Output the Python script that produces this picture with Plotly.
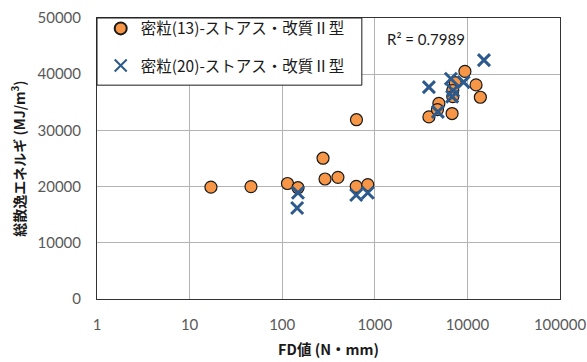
import plotly.graph_objects as go

# FD value (N·mm) and total dissipated energy (MJ/m³) per specimen
fd_13 = [17, 46, 114, 148, 276, 290, 400, 630, 634, 840,
         3840, 4920, 4750, 6830, 7400, 6950, 6950, 9400, 12400, 13800]
energy_13 = [19900, 20000, 20550, 19800, 25050, 21350, 21650, 20050, 31900, 20350,
             32400, 34800, 33700, 33000, 38500, 37100, 36000, 40500, 38100, 35900]

fd_20 = [148, 145, 630, 840, 3840, 4800, 6630, 7000, 6850, 9100, 15100]
energy_20 = [18900, 16200, 18500, 18900, 37700, 33300, 39200, 37100, 36000, 38600, 42500]

name_13 = "密粒(13)-ストアス・改質Ⅱ型"
name_20 = "密粒(20)-ストアス・改質Ⅱ型"
r2_text = "R² = 0.7989"

x_tickvals = [1, 10, 100, 1000, 10000, 100000]
x_ticktext = ["1", "10", "100", "1000", "10000", "100000"]
y_tickvals = [0, 10000, 20000, 30000, 40000, 50000]
y_ticktext = ["0", "10000", "20000", "30000", "40000", "50000"]

FONT = "Lato, Noto Sans CJK JP, sans-serif"
JP_FONT = "Noto Sans CJK JP, sans-serif"

fig = go.Figure()
fig.add_trace(go.Scatter(
    x=fd_13, y=energy_13, mode="markers", name=name_13,
    legendgroup="a",
    marker=dict(symbol="circle", size=12, color="#F79646",
                line=dict(color="#1a1a1a", width=1.2)),
))
fig.add_trace(go.Scatter(
    x=fd_20, y=energy_20, mode="markers", name=name_20,
    legendgroup="b",
    marker=dict(symbol="x-thin", size=12, color="#2C5A8C",
                line=dict(color="#2C5A8C", width=3)),
))

# white legend frame covering the gridlines
fig.add_shape(
    type="rect", xref="paper", yref="paper",
    x0=0, x1=0.572, y0=0.761, y1=1.0,
    fillcolor="white", line=dict(color="#1a1a1a", width=1), layer="above",
)

fig.add_annotation(
    x=0.621, y=0.925, xref="paper", yref="paper", xanchor="left", yanchor="middle",
    text=r2_text, showarrow=False,
    font=dict(family=FONT, size=15, color="#1a1a1a"),
)

fig.update_layout(
    width=587, height=362,
    margin=dict(l=97, r=27, t=15, b=63),
    paper_bgcolor="white", plot_bgcolor="white",
    font=dict(family=FONT, size=15, color="#595959"),
    showlegend=True,
    legend=dict(
        x=0.008, y=1.022, xanchor="left", yanchor="top",
        bgcolor="rgba(0,0,0,0)", borderwidth=0,
        font=dict(family=JP_FONT, size=15.5, color="#1a1a1a"),
        tracegroupgap=14, traceorder="grouped",
        itemsizing="constant",
    ),
    xaxis=dict(
        type="log", range=[0, 5],
        tickvals=x_tickvals, ticktext=x_ticktext,
        showgrid=True, gridcolor="#B3B3B3", gridwidth=1,
        showline=True, linecolor="#333333", linewidth=1, mirror=True,
        ticks="", zeroline=False, ticklabelstandoff=12, automargin=False,
        title=dict(text="<b>FD値 (N・mm)</b>", standoff=12,
                   font=dict(family=JP_FONT, size=14.5, color="#1a1a1a")),
    ),
    yaxis=dict(
        range=[0, 50000], tickvals=y_tickvals, ticktext=y_ticktext,
        showgrid=True, gridcolor="#B3B3B3", gridwidth=1,
        showline=True, linecolor="#333333", linewidth=1, mirror=True,
        ticks="", zeroline=False, ticklabelstandoff=12, automargin=False,
        title=dict(text="<b>総散逸エネルギ (MJ/m<sup>3</sup>)</b>", standoff=8,
                   font=dict(family=JP_FONT, size=14, color="#1a1a1a")),
    ),
)

fig.write_html("out.html")
